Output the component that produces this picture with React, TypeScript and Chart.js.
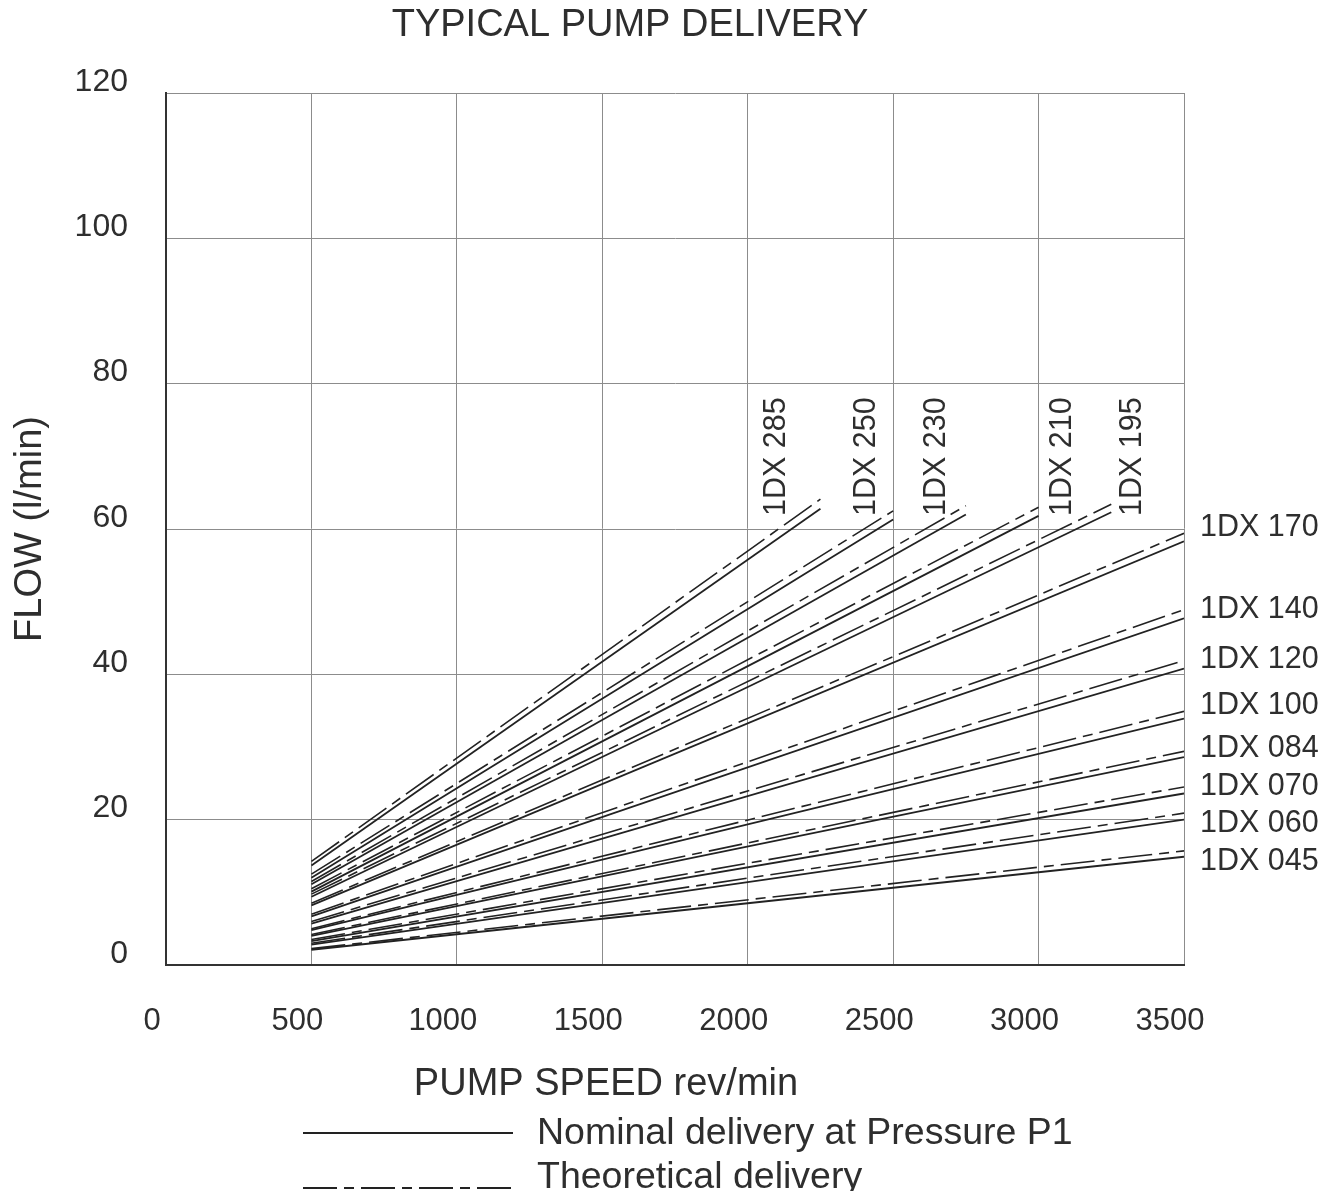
import React, { useEffect, useRef } from 'react';
import { Chart, registerables } from 'chart.js';

Chart.register(...registerables);

// ---------- data ----------
const MODELS = ['1DX 045', '1DX 060', '1DX 070', '1DX 084', '1DX 100', '1DX 120', '1DX 140', '1DX 170', '1DX 195', '1DX 210', '1DX 230', '1DX 250', '1DX 285'];
const START_SPEED = [500, 500, 500, 500, 500, 500, 500, 500, 500, 500, 500, 500, 500];
const MAX_SPEED = [3500, 3500, 3500, 3500, 3500, 3500, 3500, 3500, 3250, 3000, 2750, 2500, 2250];
const THEORETICAL_START = [2.25, 3.0, 3.5, 4.2, 5.0, 6.0, 7.0, 8.5, 9.75, 10.5, 11.5, 12.5, 14.25];
const THEORETICAL_END = [15.7, 20.9, 24.5, 29.4, 34.9, 41.9, 48.9, 59.4, 63.4, 63.0, 63.2, 62.5, 64.1];
const NOMINAL_START = [2.1, 2.8, 3.3, 4.0, 4.8, 5.7, 6.7, 8.2, 9.4, 10.1, 11.1, 12.0, 13.7];
const NOMINAL_END = [14.9, 20.0, 23.6, 28.6, 33.9, 40.8, 47.7, 58.3, 62.3, 61.8, 62.0, 61.3, 62.8];
const X_TICKS = [0, 500, 1000, 1500, 2000, 2500, 3000, 3500];
const Y_TICKS = [0, 20, 40, 60, 80, 100, 120];

const TITLE = 'TYPICAL PUMP DELIVERY';
const X_TITLE = 'PUMP SPEED rev/min';
const Y_TITLE = 'FLOW (l/min)';
const LEGEND_LABELS = ['Nominal delivery at Pressure P1', 'Theoretical delivery'];

// ---------- styles ----------
const FONT = '"Liberation Sans", Arial, Helvetica, sans-serif';
const TEXT = '#2e2e2e';
const LINE = '#222222';
const GRID = '#8c8c8c';
const THEO_DASH = [34, 7, 10, 7];
const RIGHT_LABEL_NUDGE = [8, 7, -4, -6, -9, -4.5, -4, -10, 0, 0, 0, 0, 0];
const ROT_LABEL_DX = [0, 0, 0, 0, 0, 0, 0, 0, 21, 24, -29, -27, -44];

const annotate = {
  id: 'annotate',
  afterDraw(chart: any) {
    const { ctx, chartArea: a, scales } = chart;
    const xs = scales.x;
    const ys = scales.y;
    ctx.save();
    ctx.fillStyle = TEXT;

    // chart title
    ctx.font = `38px ${FONT}`;
    ctx.textAlign = 'center';
    ctx.textBaseline = 'middle';
    ctx.fillText(TITLE, a.left + 464, a.top - 67);

    // x-axis title
    ctx.fillText(X_TITLE, a.left + 440, a.bottom + 120);

    // series labels
    ctx.font = `30.5px ${FONT}`;
    MODELS.forEach((m, i) => {
      if (MAX_SPEED[i] >= xs.max) {
        const y = ys.getPixelForValue((NOMINAL_END[i] + THEORETICAL_END[i]) / 2) + RIGHT_LABEL_NUDGE[i];
        ctx.textAlign = 'left';
        ctx.textBaseline = 'middle';
        ctx.fillText(m, a.right + 16, y);
      } else {
        const x = xs.getPixelForValue(MAX_SPEED[i]) + ROT_LABEL_DX[i];
        ctx.save();
        ctx.translate(x, a.top + 423);
        ctx.rotate(-Math.PI / 2);
        ctx.textAlign = 'left';
        ctx.textBaseline = 'middle';
        ctx.fillText(m, 0, 0);
        ctx.restore();
      }
    });

    // legend
    const rows = [
      { text: LEGEND_LABELS[0], dash: [] as number[], width: 1.8, lineY: a.bottom + 168, textY: a.bottom + 169, x1: a.left + 137, x2: a.left + 347 },
      { text: LEGEND_LABELS[1], dash: THEO_DASH, width: 1.8, lineY: a.bottom + 223, textY: a.bottom + 213, x1: a.left + 137, x2: a.left + 352 },
    ];
    ctx.font = `37.5px ${FONT}`;
    rows.forEach((r) => {
      ctx.save();
      ctx.strokeStyle = LINE;
      ctx.lineWidth = r.width;
      ctx.setLineDash(r.dash);
      ctx.beginPath();
      ctx.moveTo(r.x1, r.lineY);
      ctx.lineTo(r.x2, r.lineY);
      ctx.stroke();
      ctx.restore();
      ctx.textAlign = 'left';
      ctx.textBaseline = 'middle';
      ctx.fillText(r.text, a.left + 371, r.textY);
    });
    ctx.restore();
  },
};

export default function App() {
  const ref = useRef<HTMLCanvasElement>(null);

  useEffect(() => {
    const datasets: any[] = [];
    MODELS.forEach((m, i) => {
      datasets.push({
        label: `${m} nominal`,
        data: [
          { x: START_SPEED[i], y: NOMINAL_START[i] },
          { x: MAX_SPEED[i], y: NOMINAL_END[i] },
        ],
        borderColor: LINE,
        borderWidth: 1.8,
        pointRadius: 0,
        fill: false,
        tension: 0,
      });
      datasets.push({
        label: `${m} theoretical`,
        data: [
          { x: START_SPEED[i], y: THEORETICAL_START[i] },
          { x: MAX_SPEED[i], y: THEORETICAL_END[i] },
        ],
        borderColor: LINE,
        borderWidth: 1.6,
        borderDash: THEO_DASH,
        pointRadius: 0,
        fill: false,
        tension: 0,
      });
    });

    const chart = new Chart(ref.current as HTMLCanvasElement, {
      type: 'line',
      data: { datasets },
      plugins: [annotate],
      options: {
        responsive: false,
        animation: false,
        events: [],
        layout: { padding: { top: 85, right: 146, left: 0, bottom: 0 } },
        plugins: {
          legend: { display: false },
          title: { display: false },
          tooltip: { enabled: false },
        },
        scales: {
          x: {
            type: 'linear',
            min: 0,
            max: 3500,
            afterBuildTicks: (s: any) => {
              s.ticks = X_TICKS.map((v) => ({ value: v }));
            },
            afterFit: (s: any) => {
              s.height = 234;
            },
            grid: { color: GRID, lineWidth: 1, drawTicks: false },
            border: { display: true, color: '#333333', width: 2 },
            ticks: {
              color: TEXT,
              font: { family: FONT, size: 31 },
              padding: 38,
              labelOffset: -14,
              maxRotation: 0,
              autoSkip: false,
              callback: (v: any) => String(v),
            },
          },
          y: {
            type: 'linear',
            min: 0,
            max: 120,
            afterBuildTicks: (s: any) => {
              s.ticks = Y_TICKS.map((v) => ({ value: v }));
            },
            afterFit: (s: any) => {
              s.width = 158;
            },
            grid: { color: GRID, lineWidth: 1, drawTicks: false },
            border: { display: true, color: '#333333', width: 2 },
            ticks: {
              color: TEXT,
              font: { family: FONT, size: 32 },
              padding: 38,
              labelOffset: -11,
              autoSkip: false,
              callback: (v: any) => String(v),
            },
            title: {
              display: true,
              text: Y_TITLE,
              color: TEXT,
              font: { family: FONT, size: 38 },
              padding: { top: 0, bottom: 0 },
            },
          },
        },
      } as any,
    });
    return () => chart.destroy();
  }, []);

  return (
    <div style={{ width: 1322, height: 1191, marginBottom: -8 }}>
      <canvas ref={ref} width={1322} height={1191} style={{ display: 'block' }} />
    </div>
  );
}
